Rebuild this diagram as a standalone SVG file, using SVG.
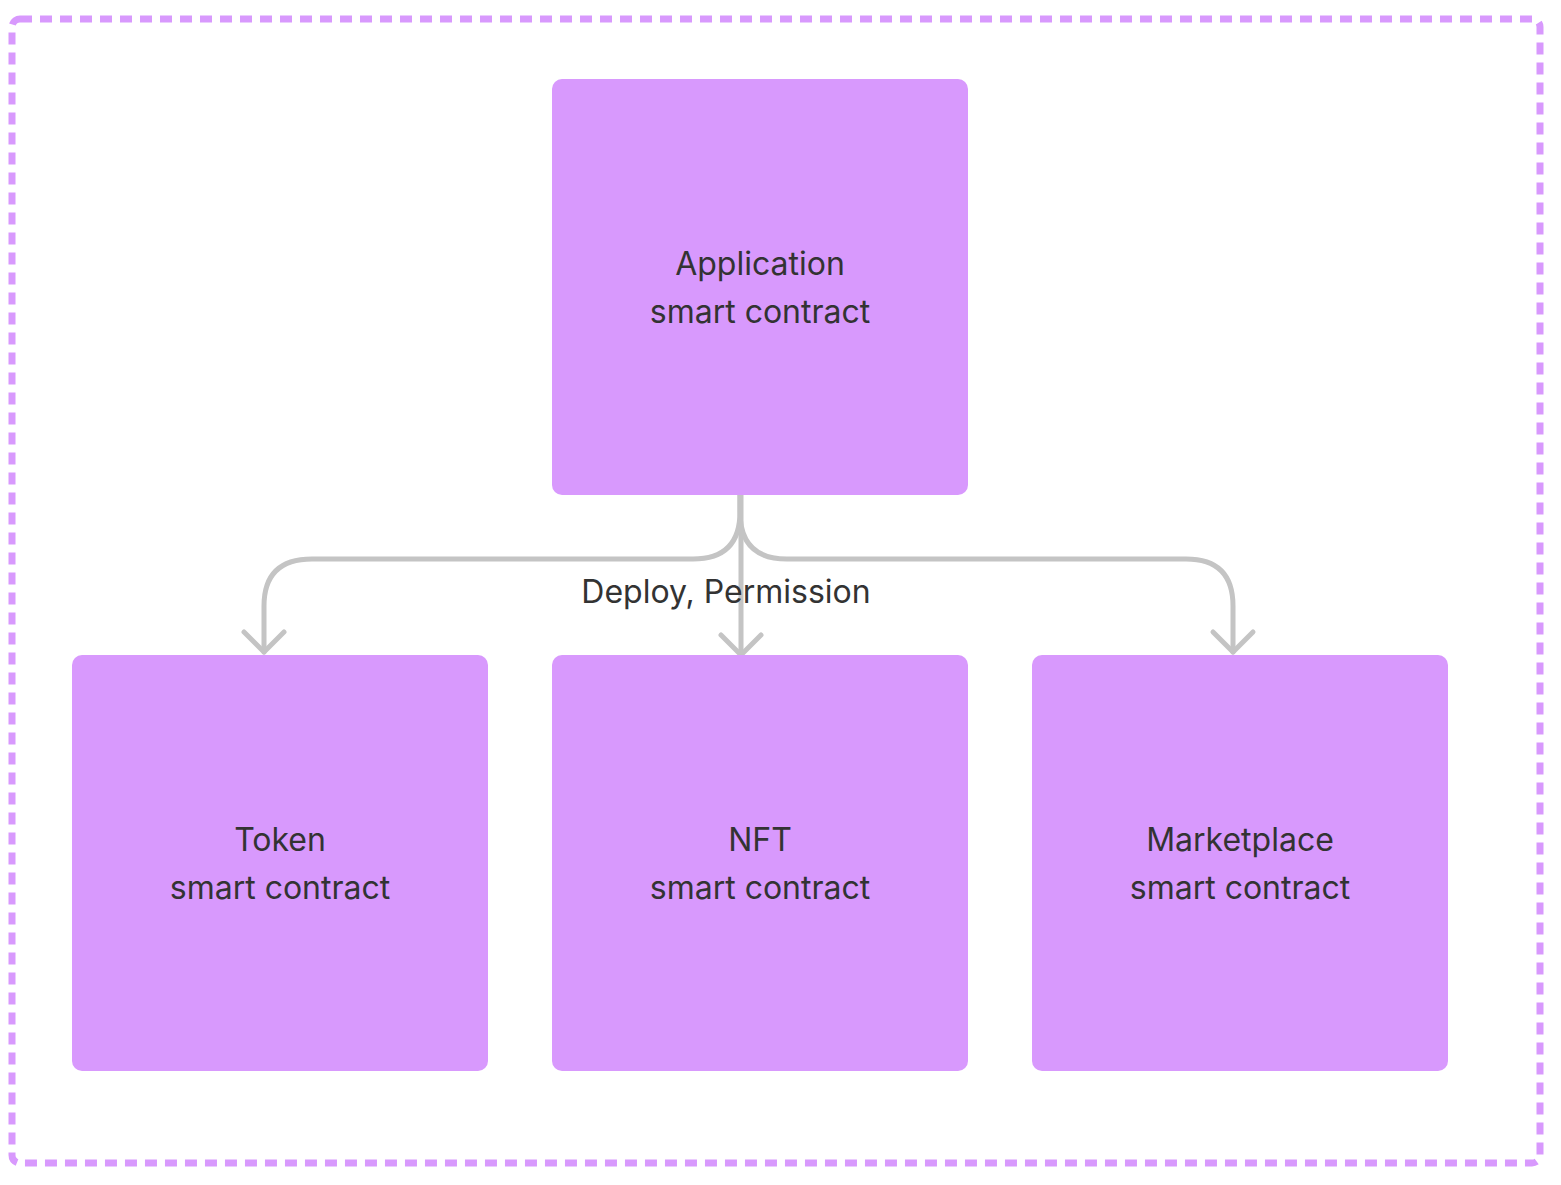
<svg xmlns="http://www.w3.org/2000/svg" width="1561" height="1185" viewBox="0 0 1561 1185">
<style>
.box{fill:#D899FD;}
.t{font-family:Inter,"Noto Sans",sans-serif;font-size:32px;fill:#333333;text-anchor:middle;}
.c{fill:none;stroke:#C4C4C4;stroke-width:5;stroke-linecap:round;stroke-linejoin:round;}
</style>
<rect width="1561" height="1185" fill="#FFFFFF"/>
<rect x="12" y="19" width="1528" height="1144" rx="8" fill="none" stroke="#D899FD" stroke-width="7" stroke-dasharray="12 8"/>
<g id="connectors">
<path class="c" d="M740 494 V512 Q740 559 693 559 H312 Q264 559 264 606 V652"/>
<path class="c" d="M740 494 V512 Q740 559 787 559 H1186 Q1233 559 1233 606 V652"/>
<path class="c" d="M741 494 V655"/>
<path class="c" d="M244 632 L264 652 L284 632"/>
<path class="c" d="M721 635 L741 655 L761 635"/>
<path class="c" d="M1213 632 L1233 652 L1253 632"/>
<text class="t" x="726" y="603">Deploy, Permission</text>
</g>
<g id="application">
<rect class="box" x="552" y="79" width="416" height="416" rx="10"/>
<text class="t" x="760" y="275">Application</text>
<text class="t" x="760" y="323">smart contract</text>
</g>
<g id="token">
<rect class="box" x="72" y="655" width="416" height="416" rx="10"/>
<text class="t" x="280" y="851">Token</text>
<text class="t" x="280" y="899">smart contract</text>
</g>
<g id="nft">
<rect class="box" x="552" y="655" width="416" height="416" rx="10"/>
<text class="t" x="760" y="851">NFT</text>
<text class="t" x="760" y="899">smart contract</text>
</g>
<g id="marketplace">
<rect class="box" x="1032" y="655" width="416" height="416" rx="10"/>
<text class="t" x="1240" y="851">Marketplace</text>
<text class="t" x="1240" y="899">smart contract</text>
</g>
</svg>
